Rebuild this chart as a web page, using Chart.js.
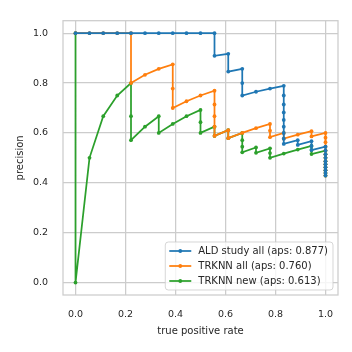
<!DOCTYPE html>
<html>
<head>
<meta charset="utf-8">
<script src="https://cdn.jsdelivr.net/npm/chart.js@4.4.0/dist/chart.umd.min.js"></script>
<style>
	html, body { margin: 0; padding: 0; background: #fff; }
	#pr { display: block; }
</style>
</head>
<body>
<canvas id="pr" width="352" height="352"></canvas>
<script>
// precision / recall points, one pair of arrays per curve
const aldRecall = [0, 0.056, 0.111, 0.167, 0.222, 0.278, 0.333, 0.389, 0.444, 0.5, 0.556, 0.556, 0.611, 0.611, 0.667, 0.667, 0.667, 0.722, 0.778, 0.833, 0.833, 0.833, 0.833, 0.833, 0.833, 0.833, 0.833, 0.833, 0.889, 0.889, 0.944, 0.944, 0.944, 1, 1, 1, 1, 1, 1, 1, 1, 1, 1];
const aldPrecision = [1, 1, 1, 1, 1, 1, 1, 1, 1, 1, 1, 0.909, 0.917, 0.846, 0.857, 0.8, 0.75, 0.765, 0.778, 0.789, 0.75, 0.714, 0.682, 0.652, 0.625, 0.6, 0.577, 0.556, 0.571, 0.552, 0.567, 0.548, 0.531, 0.545, 0.529, 0.514, 0.5, 0.486, 0.474, 0.462, 0.45, 0.439, 0.429];

const trkAllRecall = [0, 0.056, 0.111, 0.167, 0.222, 0.222, 0.278, 0.333, 0.389, 0.389, 0.389, 0.444, 0.5, 0.556, 0.556, 0.556, 0.556, 0.556, 0.611, 0.611, 0.667, 0.722, 0.778, 0.778, 0.778, 0.833, 0.833, 0.889, 0.944, 0.944, 1, 1, 1, 1, 1, 1, 1, 1, 1, 1, 1, 1, 1];
const trkAllPrecision = [1, 1, 1, 1, 1, 0.8, 0.833, 0.857, 0.875, 0.778, 0.7, 0.727, 0.75, 0.769, 0.714, 0.667, 0.625, 0.588, 0.611, 0.579, 0.6, 0.619, 0.636, 0.609, 0.583, 0.6, 0.577, 0.593, 0.607, 0.586, 0.6, 0.581, 0.563, 0.545, 0.529, 0.514, 0.5, 0.486, 0.474, 0.462, 0.45, 0.439, 0.429];

const trkNewRecall = [0, 0, 0.056, 0.111, 0.167, 0.222, 0.222, 0.222, 0.278, 0.333, 0.333, 0.389, 0.444, 0.5, 0.5, 0.5, 0.556, 0.556, 0.611, 0.611, 0.667, 0.667, 0.667, 0.667, 0.722, 0.722, 0.778, 0.778, 0.778, 0.833, 0.889, 0.944, 0.944, 0.944, 1, 1, 1, 1, 1, 1, 1, 1, 1];
const trkNewPrecision = [1, 0, 0.5, 0.667, 0.75, 0.8, 0.667, 0.571, 0.625, 0.667, 0.6, 0.636, 0.667, 0.692, 0.643, 0.6, 0.625, 0.588, 0.611, 0.579, 0.6, 0.571, 0.545, 0.522, 0.542, 0.52, 0.538, 0.519, 0.5, 0.517, 0.533, 0.548, 0.531, 0.515, 0.529, 0.514, 0.5, 0.486, 0.474, 0.462, 0.45, 0.439, 0.429];

const seriesLabels = ['ALD study all (aps: 0.877)', 'TRKNN all (aps: 0.760)', 'TRKNN new (aps: 0.613)'];
const seriesColors = ['#1f77b4', '#ff7f0e', '#2ca02c'];
const xTicks = [0, 0.2, 0.4, 0.6, 0.8, 1.0];
const yTicks = [0, 0.2, 0.4, 0.6, 0.8, 1.0];

const FONT = 'DejaVu Sans';
const TEXT = '#262626';
const GRID = '#cccccc';

const toPoints = (xs, ys) => xs.map((x, i) => ({ x: x, y: ys[i] }));
const curves = [
	toPoints(aldRecall, aldPrecision),
	toPoints(trkAllRecall, trkAllPrecision),
	toPoints(trkNewRecall, trkNewPrecision),
];

// top/right spines like the seaborn whitegrid frame
const framePlugin = {
	id: 'frame',
	afterDatasetsDraw(chart) {
		const { ctx, chartArea: a } = chart;
		ctx.save();
		ctx.strokeStyle = GRID;
		ctx.lineWidth = 1.25;
		ctx.strokeRect(a.left, a.top, a.right - a.left, a.bottom - a.top);
		ctx.restore();
	},
};

// legend in the lower right corner, drawn over the lines
const legendPlugin = {
	id: 'boxLegend',
	afterDraw(chart) {
		const { ctx, chartArea: a } = chart;
		ctx.save();
		ctx.font = '10px "' + FONT + '"';
		const textW = Math.max(...seriesLabels.map(s => ctx.measureText(s).width));
		const w = 4 + 22 + 7 + textW + 5;
		const h = 48;
		const x = a.right - 5 - w;
		const y = a.bottom - 5 - h;
		ctx.beginPath();
		ctx.roundRect(x, y, w, h, 3);
		ctx.fillStyle = 'rgba(255,255,255,0.8)';
		ctx.fill();
		ctx.strokeStyle = 'rgba(204,204,204,0.8)';
		ctx.lineWidth = 1;
		ctx.stroke();
		seriesLabels.forEach((label, i) => {
			const ry = y + 9 + i * 15;
			ctx.strokeStyle = seriesColors[i];
			ctx.lineWidth = 1.75;
			ctx.beginPath();
			ctx.moveTo(x + 4, ry);
			ctx.lineTo(x + 26, ry);
			ctx.stroke();
			ctx.fillStyle = seriesColors[i];
			ctx.beginPath();
			ctx.arc(x + 15, ry, 1.9, 0, Math.PI * 2);
			ctx.fill();
			ctx.fillStyle = TEXT;
			ctx.textBaseline = 'middle';
			ctx.fillText(label, x + 33, ry + 0.5);
		});
		ctx.restore();
	},
};

const ctx = document.getElementById('pr').getContext('2d');
new Chart(ctx, {
	type: 'line',
	data: {
		datasets: curves.map((pts, i) => ({
			label: seriesLabels[i],
			data: pts,
			borderColor: seriesColors[i],
			backgroundColor: seriesColors[i],
			borderWidth: 1.75,
			pointRadius: 1.9,
			pointBorderWidth: 0,
			tension: 0,
			fill: false,
		})),
	},
	options: {
		responsive: false,
		devicePixelRatio: 1,
		animation: false,
		parsing: true,
		layout: { padding: { top: 14, right: 14, left: 0, bottom: 0 } },
		plugins: {
			legend: { display: false },
			tooltip: { enabled: false },
		},
		scales: {
			x: {
				type: 'linear',
				min: -0.05,
				max: 1.05,
				afterBuildTicks: scale => { scale.ticks = xTicks.map(v => ({ value: v })); },
				afterFit: scale => { scale.height = 57; },
				ticks: {
					padding: 14,
					color: TEXT,
					font: { family: FONT, size: 9.5 },
					callback: v => v.toFixed(1),
				},
				grid: { color: GRID, lineWidth: 1.25, drawTicks: false },
				border: { display: false },
				title: {
					display: true,
					text: 'true positive rate',
					color: TEXT,
					font: { family: FONT, size: 10 },
					padding: { top: 0, bottom: 14.5 },
				},
			},
			y: {
				type: 'linear',
				min: -0.05,
				max: 1.05,
				afterBuildTicks: scale => { scale.ticks = yTicks.map(v => ({ value: v })); },
				afterFit: scale => { scale.width = 63; },
				ticks: {
					padding: 15,
					color: TEXT,
					font: { family: FONT, size: 9.5 },
					callback: v => v.toFixed(1),
				},
				grid: { color: GRID, lineWidth: 1.25, drawTicks: false },
				border: { display: false },
				title: {
					display: true,
					text: 'precision',
					color: TEXT,
					font: { family: FONT, size: 10 },
					padding: { top: 14, bottom: 0 },
				},
			},
		},
	},
	plugins: [framePlugin, legendPlugin],
});
</script>
</body>
</html>
